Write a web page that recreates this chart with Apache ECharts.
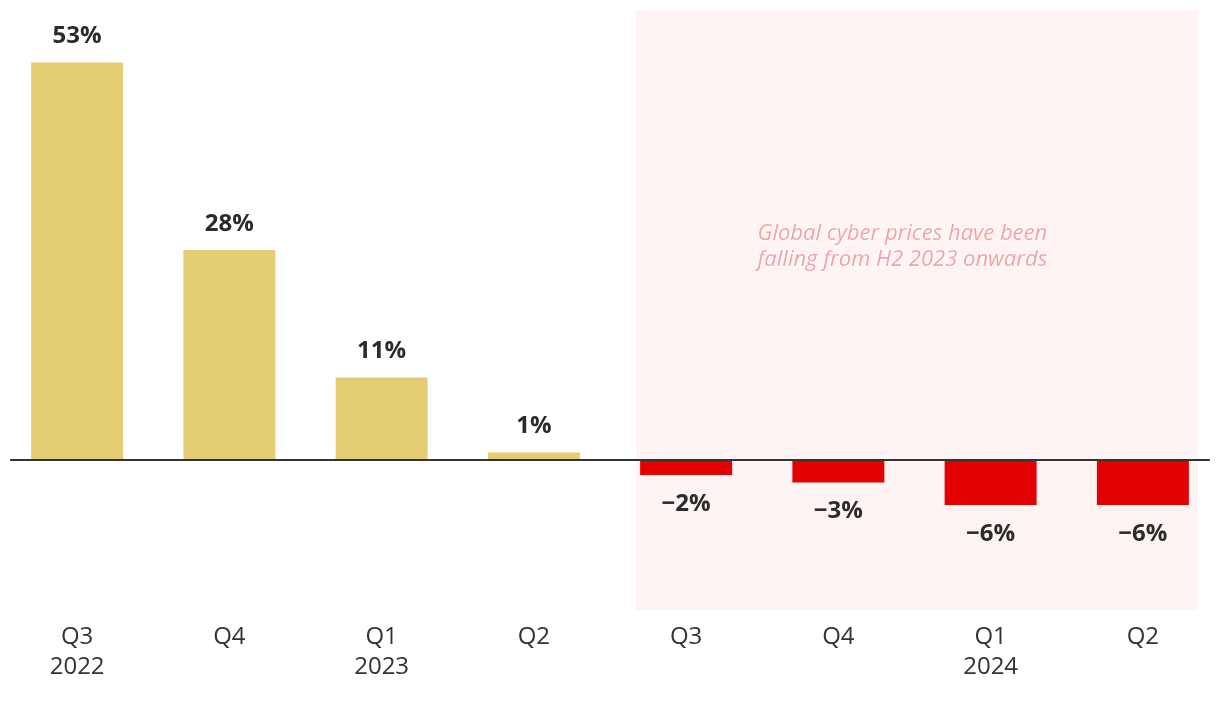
<!DOCTYPE html>
<html>
<head>
<meta charset="utf-8">
<script src="https://cdn.jsdelivr.net/npm/echarts@6/dist/echarts.min.js"></script>
<style>
html,body{margin:0;padding:0;background:#fff;}
#chart{width:1220px;height:704px;}
</style>
</head>
<body>
<div id="chart"></div>
<script>
const categories = ["Q3\n2022", "Q4", "Q1\n2023", "Q2", "Q3", "Q4", "Q1\n2024", "Q2"];
const priceChange = [53, 28, 11, 1, -2, -3, -6, -6];
const yTicks = { min: -20, max: 60 };
const shadedRange = [3.67, 7.36];   // category-position span of the H2 2023+ highlight
const zeroLineRange = [-0.44, 7.44];
const annotationText = "Global cyber prices have been\nfalling from H2 2023 onwards";
const annotationPos = [5.42, 28.45];

const posColor = "#e5cd73";
const negColor = "#e20000";
const fontFamily = "'Open Sans', sans-serif";

const chart = echarts.init(document.getElementById('chart'), null, { renderer: 'canvas' });

const option = {
  animation: false,
  backgroundColor: '#ffffff',
  grid: { left: 1, right: 1, top: 10, bottom: 94, containLabel: false },
  xAxis: [
    {
      type: 'category',
      data: categories,
      axisLine: { show: false },
      axisTick: { show: false },
      splitLine: { show: false },
      axisLabel: {
        fontFamily: fontFamily,
        fontSize: 24,
        lineHeight: 30,
        color: '#333333',
        margin: 12,
        interval: 0
      }
    },
    {
      type: 'value',
      min: -0.5,
      max: 7.5,
      show: false
    }
  ],
  yAxis: {
    type: 'value',
    min: yTicks.min,
    max: yTicks.max,
    show: false,
    splitLine: { show: false }
  },
  series: [
    {
      type: 'line',
      xAxisIndex: 1,
      data: [],
      z: 0,
      silent: true,
      markArea: {
        silent: true,
        itemStyle: { color: '#fef4f3' },
        label: { show: false },
        data: [[{ coord: [shadedRange[0], yTicks.min] }, { coord: [shadedRange[1], yTicks.max] }]]
      }
    },
    {
      type: 'bar',
      xAxisIndex: 0,
      z: 2,
      barWidth: 92,
      data: priceChange.map(v => ({
        value: v,
        itemStyle: { color: v >= 0 ? posColor : negColor },
        label: {
          position: v >= 0 ? 'top' : 'bottom',
          distance: v >= 0 ? 14 : 17
        }
      })),
      label: {
        show: true,
        fontFamily: fontFamily,
        fontSize: 24,
        fontWeight: 'bold',
        color: '#2b2b2b',
        formatter: p => (p.value < 0 ? '\u2212' + Math.abs(p.value) : p.value) + '%'
      }
    },
    {
      type: 'line',
      xAxisIndex: 1,
      data: [],
      z: 5,
      silent: true,
      markLine: {
        silent: true,
        symbol: ['none', 'none'],
        label: { show: false },
        lineStyle: { color: '#333333', width: 2, type: 'solid' },
        data: [[{ coord: [zeroLineRange[0], 0] }, { coord: [zeroLineRange[1], 0] }]]
      }
    },
    {
      type: 'scatter',
      xAxisIndex: 1,
      z: 6,
      silent: true,
      symbolSize: 0,
      data: [annotationPos],
      label: {
        show: true,
        position: 'inside',
        formatter: annotationText,
        fontFamily: fontFamily,
        fontStyle: 'italic',
        fontSize: 22,
        lineHeight: 26,
        color: '#f08b90',
        align: 'center',
        textBorderColor: '#ffffff',
        textBorderWidth: 2
      }
    }
  ]
};

chart.setOption(option);
</script>
</body>
</html>
